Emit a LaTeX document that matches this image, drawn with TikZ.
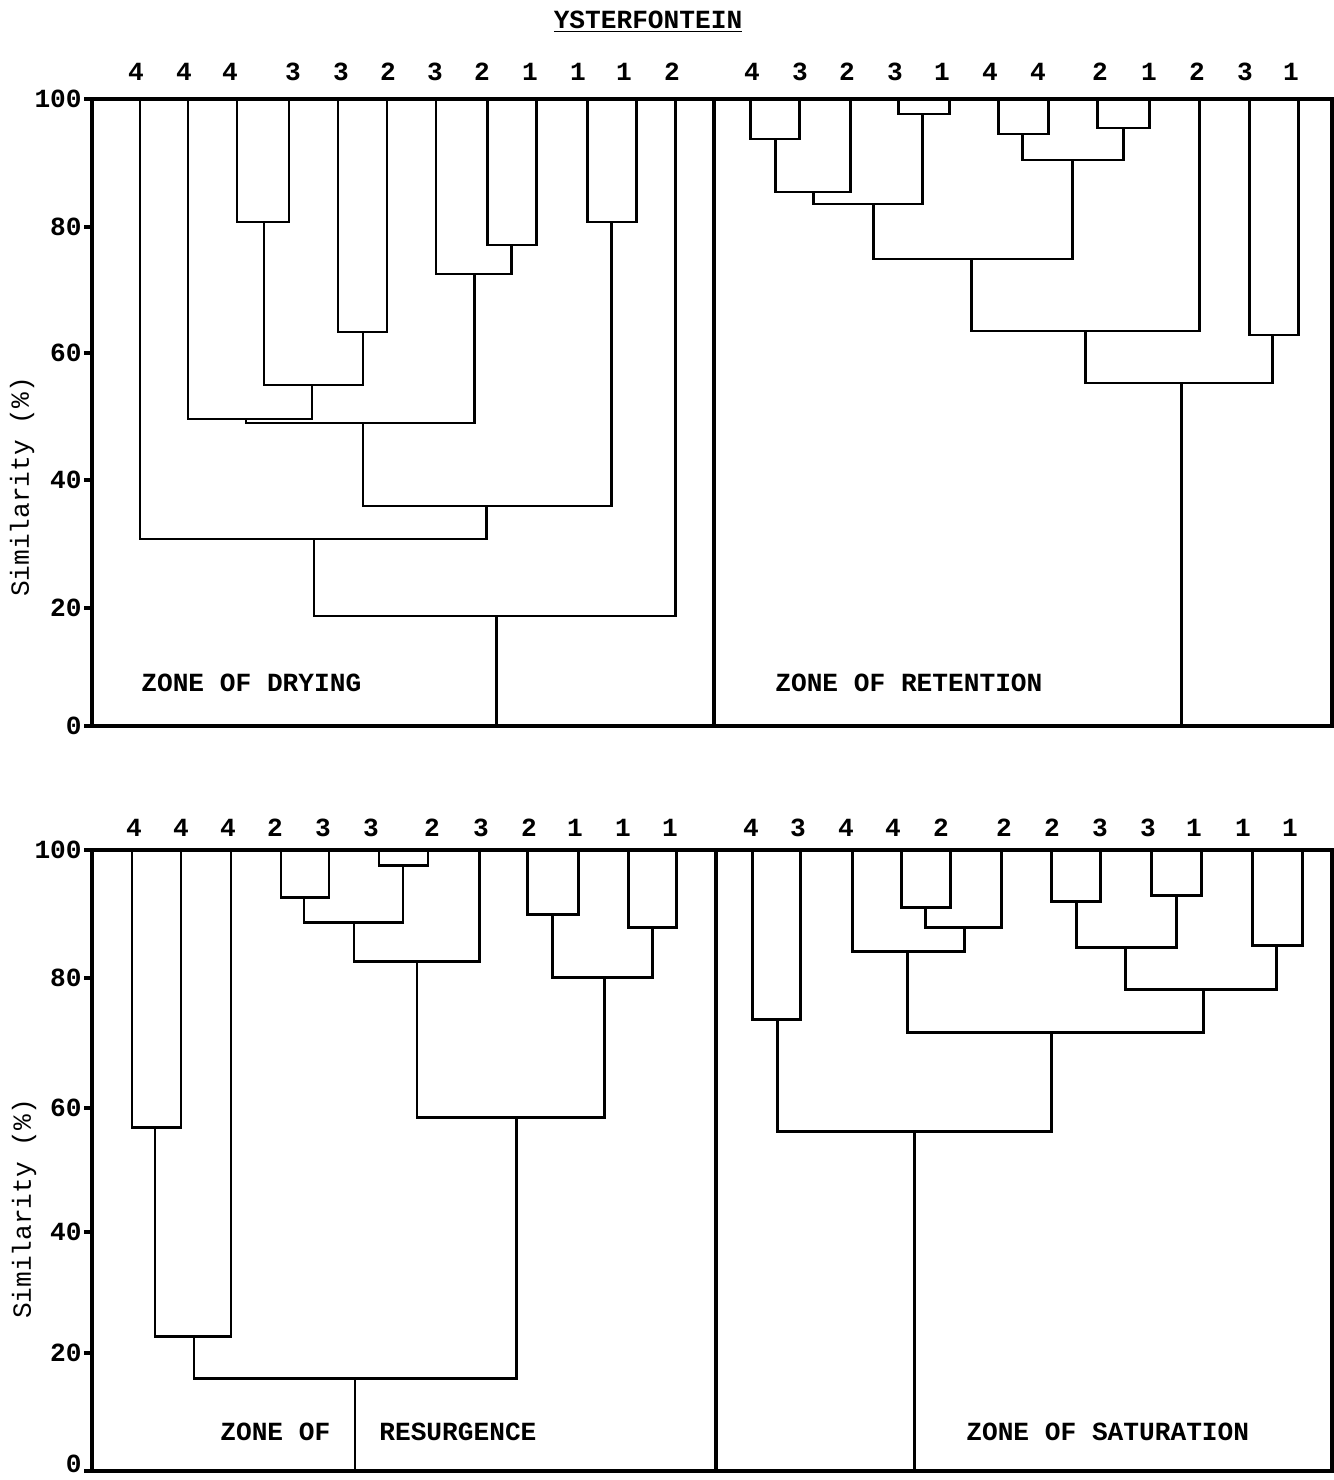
\documentclass[tikz,border=0pt]{standalone}
\usepackage{fontspec}
\setmonofont{Liberation Mono}
\usepackage{tikz}
\usetikzlibrary{positioning}

\begin{document}
\begin{tikzpicture}[x=0.02cm, y=-0.02cm,
    tree/.style  ={line width=1.7pt, line cap=rect},
    frame/.style ={line width=1.8pt, line cap=rect},
    leaf/.style  ={inner sep=0pt, font=\ttfamily\bfseries\fontsize{14.9}{16}\selectfont},
    tick/.style  ={inner sep=0pt, anchor=east, font=\ttfamily\bfseries\fontsize{14.9}{16}\selectfont},
    zone/.style  ={inner sep=0pt, anchor=west, font=\ttfamily\bfseries\fontsize{14.9}{16}\selectfont},
    axlabel/.style={inner sep=0pt, rotate=90, font=\ttfamily\fontsize{14.9}{16}\selectfont}
]
\useasboundingbox (0,0) rectangle (1334,1480);
% --- title ---
\node[leaf] (title) at (648,22) {\underline{YSTERFONTEIN}};

% ============ upper panel ============
\draw[frame] (92,99) -- (1334,99);
\draw[frame] (86,726) -- (1334,726);
\draw[frame] (92,99) -- (92,726);
\draw[frame] (714,99) -- (714,726);
\draw[frame] (1332,99) -- (1332,726);
\foreach \y/\v in {99/100, 227/80, 353/60, 480/40, 608/20, 726/0} {
  \draw[frame] (86,\y) -- (92,\y);
  \node[tick] (ut\v) at (82,\y) {\v};
}
\node[axlabel] (uaxis) at (22,487) {Similarity (\%)};
% leaf codes
\foreach \x/\t [count=\i] in {136/4, 184/4, 230/4, 293/3, 341/3, 388/2, 435/3, 482/2, 530/1, 578/1, 624/1, 672/2,
                              752/4, 800/3, 847/2, 895/3, 942/1, 990/4, 1038/4, 1100/2, 1149/1, 1197/2, 1245/3, 1291/1}
  \node[leaf] (u\i) at (\x,72) {\t};
% zone of drying
\foreach \xa/\ya/\xb/\yb/\yj in {237/99/289/99/222, 338/99/387/99/332, 487/99/536/99/245, 436/99/511/245/274,
                                 587/99/636/99/222, 264/222/363/332/385, 188/99/312/385/419, 246/419/474/274/423,
                                 363/423/611/222/506, 140/99/486/506/539, 314/539/675/99/616}
  \draw[tree] (\xa,\ya) |- (\xb,\yj) -- (\xb,\yb);
\draw[tree] (496,616) -- (496,726);
% zone of retention
\foreach \xa/\ya/\xb/\yb/\yj in {750/99/799/99/139, 775/139/850/99/192, 898/99/949/99/114, 813/192/922/114/204,
                                 998/99/1048/99/134, 1097/99/1149/99/128, 1022/134/1123/128/160, 873/204/1072/160/259,
                                 971/259/1199/99/331, 1249/99/1298/99/335, 1085/331/1272/335/383}
  \draw[tree] (\xa,\ya) |- (\xb,\yj) -- (\xb,\yb);
\draw[tree] (1181,383) -- (1181,726);
\node[zone] (drying)    at (141,683) {ZONE OF DRYING};
\node[zone] (retention) at (775,683) {ZONE OF RETENTION};

% ============ lower panel ============
\draw[frame] (92,850) -- (1334,850);
\draw[frame] (86,1471) -- (1334,1471);
\draw[frame] (92,850) -- (92,1471);
\draw[frame] (716,850) -- (716,1471);
\draw[frame] (1332,850) -- (1332,1471);
\foreach \y/\v in {850/100, 978/80, 1108/60, 1232/40, 1353/20} {
  \draw[frame] (86,\y) -- (92,\y);
  \node[tick] (lt\v) at (82,\y) {\v};
}
\draw[frame] (86,1471) -- (92,1471);
\node[tick] (lt0) at (82,1464) {0};
\node[axlabel] (laxis) at (24,1209) {Similarity (\%)};
% leaf codes
\foreach \x/\t [count=\i] in {134/4, 181/4, 228/4, 275/2, 323/3, 371/3, 432/2, 481/3, 529/2, 575/1, 623/1, 670/1,
                              751/4, 798/3, 846/4, 893/4, 941/2, 1004/2, 1052/2, 1100/3, 1148/3, 1194/1, 1243/1, 1290/1}
  \node[leaf] (l\i) at (\x,828) {\t};
% zone of resurgence
\foreach \xa/\ya/\xb/\yb/\yj in {132/850/181/850/1127, 155/1127/231/850/1336, 281/850/329/850/897, 379/850/428/850/865,
                                 304/897/403/865/922, 354/922/479/850/961, 527/850/578/850/914, 628/850/676/850/927,
                                 552/914/652/927/977, 417/961/604/977/1117, 194/1336/516/1117/1378}
  \draw[tree] (\xa,\ya) |- (\xb,\yj) -- (\xb,\yb);
\draw[tree] (355,1378) -- (355,1471);
% zone of saturation
\foreach \xa/\ya/\xb/\yb/\yj in {752/850/800/850/1019, 901/850/950/850/907, 925/907/1001/850/927, 852/850/964/927/951,
                                 1051/850/1100/850/901, 1151/850/1201/850/895, 1076/901/1176/895/947, 1252/850/1302/850/945,
                                 1125/947/1276/945/989, 907/951/1203/989/1032, 777/1019/1051/1032/1131}
  \draw[tree] (\xa,\ya) |- (\xb,\yj) -- (\xb,\yb);
\draw[tree] (914,1131) -- (914,1471);
\node[zone] (resurg1)    at (220,1432) {ZONE OF};
\node[zone] (resurg2)    at (379,1432) {RESURGENCE};
\node[zone] (saturation) at (966,1432) {ZONE OF SATURATION};
\end{tikzpicture}
\end{document}
